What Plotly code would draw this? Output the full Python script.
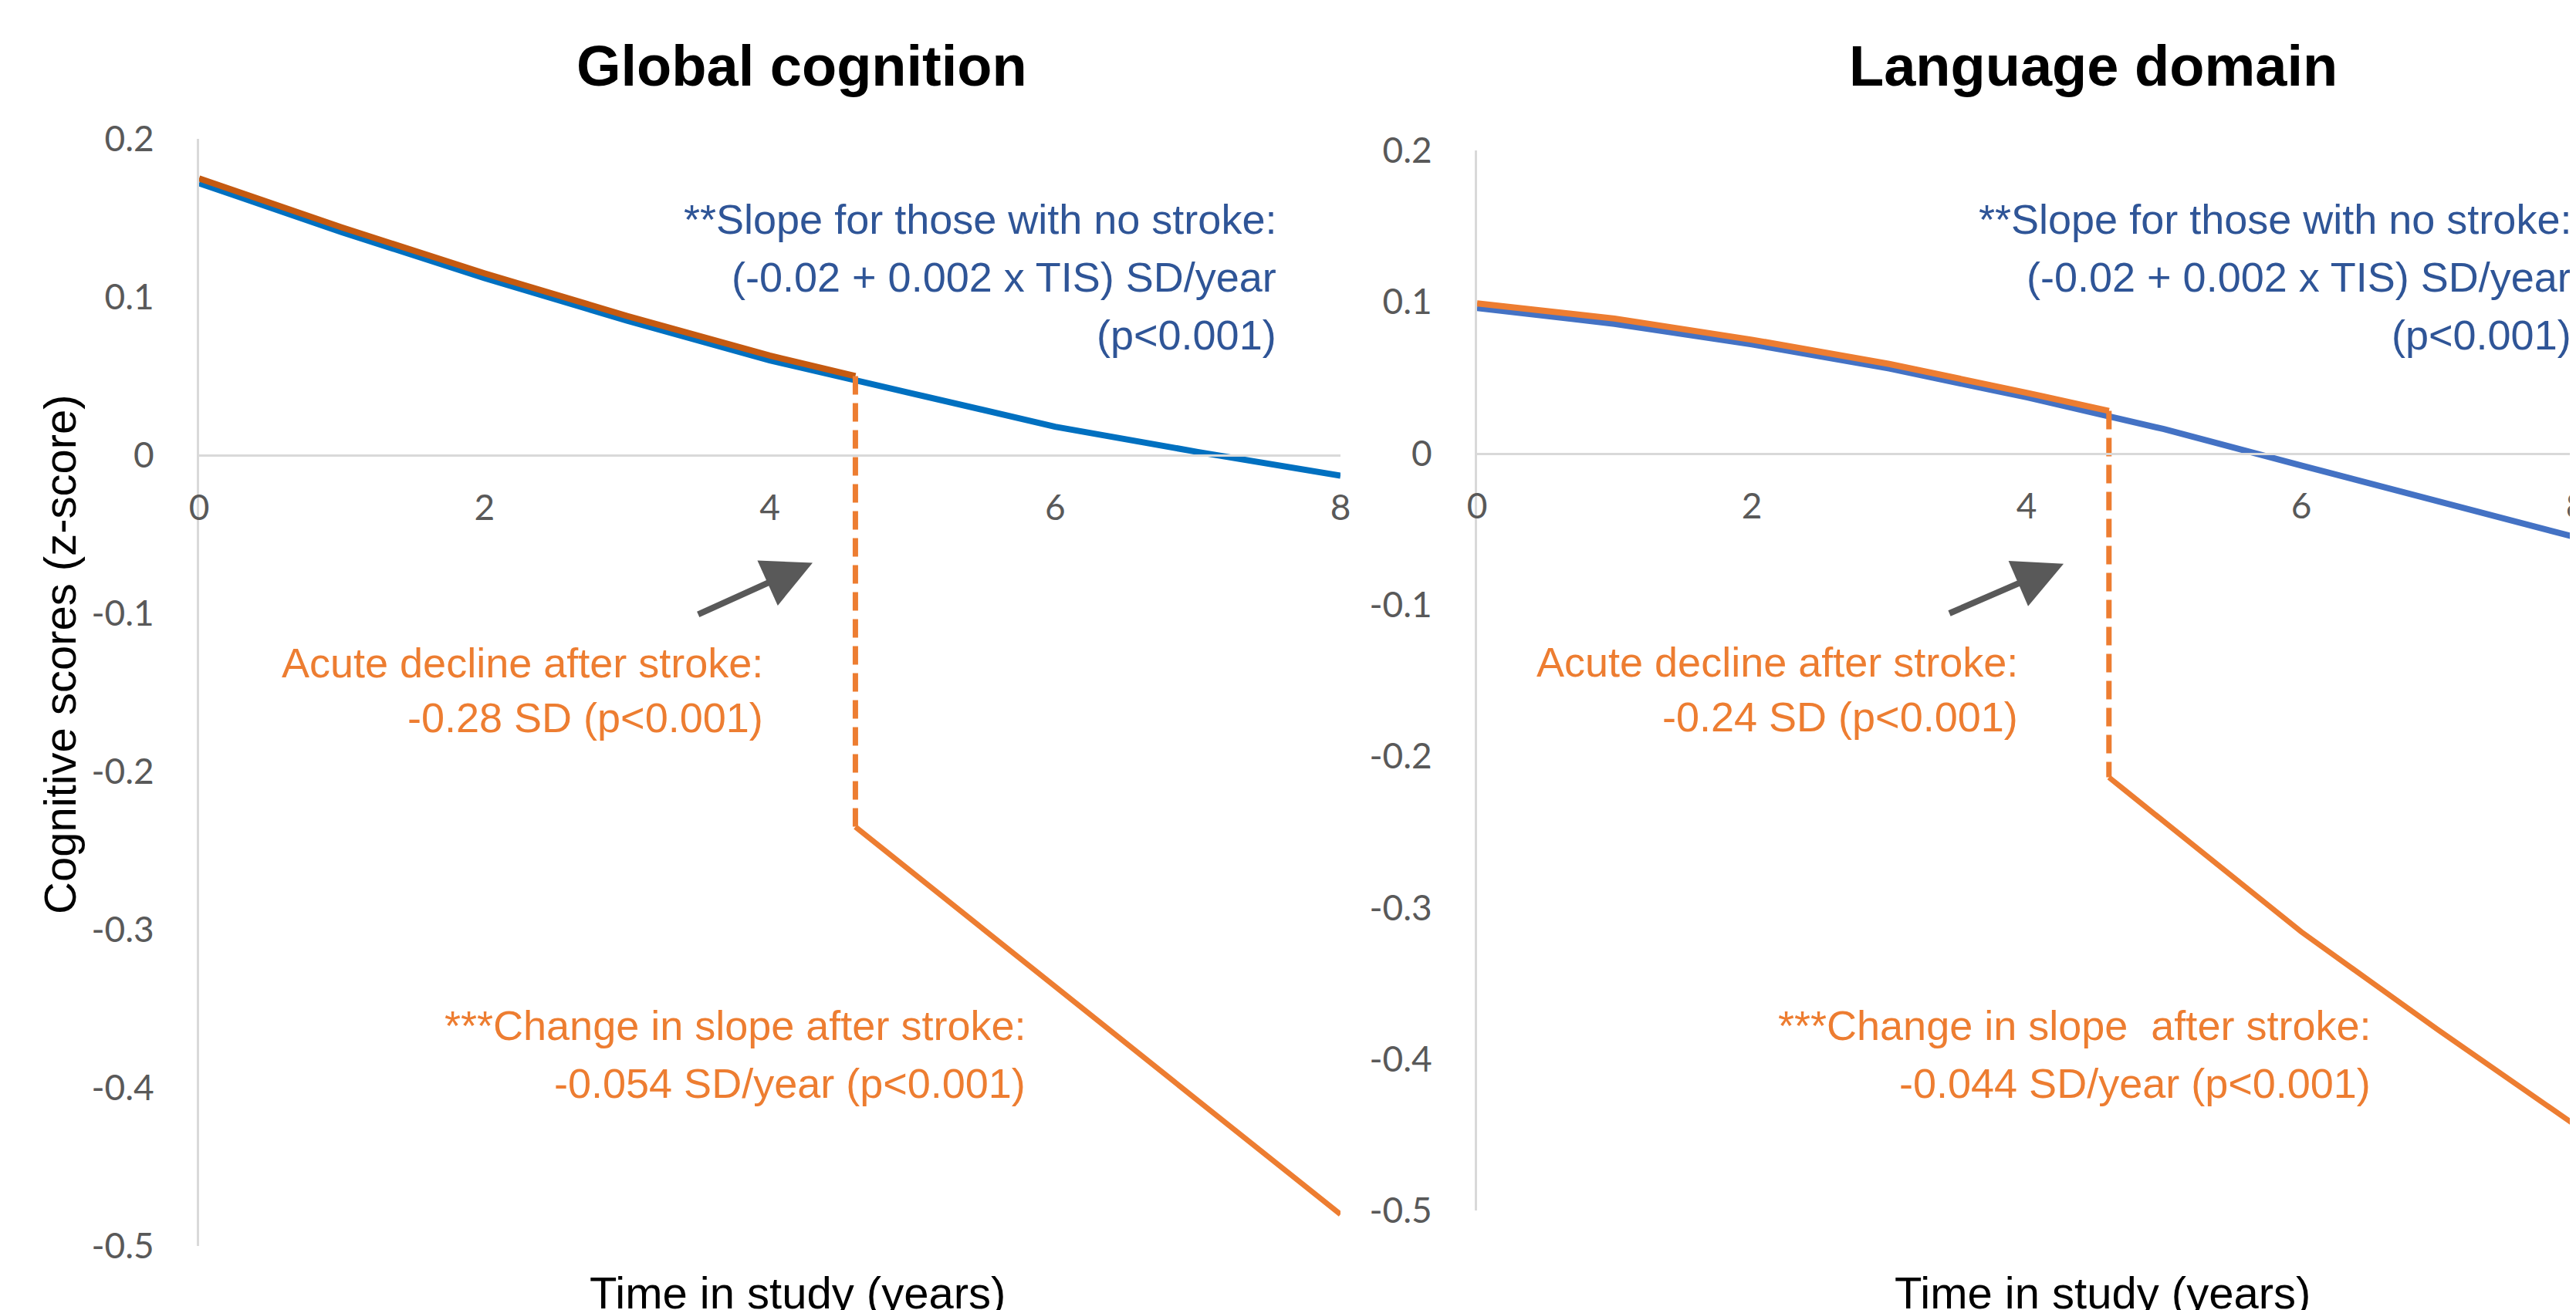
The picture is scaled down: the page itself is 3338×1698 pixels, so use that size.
import plotly.graph_objects as go

# ---------------- data ----------------
stroke_time = 4.6
years = [0, 1, 2, 3, 4, 4.6, 5, 6, 7, 8]
years_pre = [0, 1, 2, 3, 4, 4.6]
years_post = [4.6, 5, 6, 7, 8]

global_no_stroke = [0.172, 0.141, 0.112, 0.085, 0.060, 0.047, 0.039, 0.018, 0.002, -0.013]
global_stroke_pre = [0.175, 0.144, 0.115, 0.088, 0.063, 0.050]
global_stroke_post = [-0.235, -0.264, -0.336, -0.408, -0.480]

language_no_stroke = [0.096, 0.0855, 0.072, 0.056, 0.037, 0.025, 0.016, -0.008, -0.032, -0.0555]
language_stroke_pre = [0.099, 0.089, 0.075, 0.059, 0.040, 0.028]
language_stroke_post = [-0.214, -0.243, -0.316, -0.381, -0.444]

x_tick_vals = [0, 2, 4, 6, 8]
x_tick_text = ["0", "2", "4", "6", "8"]
y_tick_vals = [0.2, 0.1, 0, -0.1, -0.2, -0.3, -0.4, -0.5]
y_tick_text = ["0.2", "0.1", "0", "-0.1", "-0.2", "-0.3", "-0.4", "-0.5"]

panel_titles = ["Global cognition", "Language domain"]
x_title = "Time in study (years)"
y_title = "Cognitive scores (z-score)"

slope_lines = ["**Slope for those with no stroke:", "(-0.02 + 0.002 x TIS) SD/year", "(p&lt;0.001)"]
acute_lines = [["Acute decline after stroke:", "-0.28 SD (p&lt;0.001)"],
               ["Acute decline after stroke:", "-0.24 SD (p&lt;0.001)"]]
change_lines = [["***Change in slope after stroke:", "-0.054 SD/year (p&lt;0.001)"],
                ["***Change in slope&nbsp; after stroke:", "-0.044 SD/year (p&lt;0.001)"]]

# ---------------- style ----------------
W, H = 3338, 1698
AXIS_GREY = "#D9D9D9"
TICK_GREY = "#595959"
TEXT_BLUE = "#2F5597"
ORANGE = "#ED7D31"
ARIAL = "Liberation Sans, Arial, sans-serif"
TICKFONT = dict(family="Lato, Carlito, sans-serif", size=46, color=TICK_GREY)
NOTE_SIZE = 54

Y_RANGE = [-0.5, 0.2]
panels = [
    dict(xdom=[250 / W, 1729 / W], ydom=[1 - 1607 / H, 1 - 172 / H], xrange=[0, 8],
         no_stroke=global_no_stroke, pre=global_stroke_pre, post=global_stroke_post,
         blue="#0070C0", pre_color="#C55A11"),
    dict(xdom=[1906 / W, 1.0], ydom=[1 - 1561 / H, 1 - 187 / H], xrange=[0, 8.045],
         no_stroke=language_no_stroke, pre=language_stroke_pre, post=language_stroke_post,
         blue="#4472C4", pre_color=ORANGE),
]

fig = go.Figure()
for i, p in enumerate(panels):
    xa = "x" if i == 0 else "x2"
    ya = "y" if i == 0 else "y2"
    fig.add_trace(go.Scatter(x=years, y=p["no_stroke"], mode="lines", xaxis=xa, yaxis=ya,
                             line=dict(color=p["blue"], width=8), showlegend=False,
                             hoverinfo="skip"))
    fig.add_trace(go.Scatter(x=years_pre, y=p["pre"], mode="lines", xaxis=xa, yaxis=ya,
                             line=dict(color=p["pre_color"], width=8), showlegend=False,
                             hoverinfo="skip"))
    fig.add_trace(go.Scatter(x=[stroke_time, stroke_time], y=[p["pre"][-1], p["post"][0]],
                             mode="lines", xaxis=xa, yaxis=ya,
                             line=dict(color=ORANGE, width=7, dash="24px,11px"),
                             showlegend=False, hoverinfo="skip"))
    fig.add_trace(go.Scatter(x=years_post, y=p["post"], mode="lines", xaxis=xa, yaxis=ya,
                             line=dict(color=ORANGE, width=7), showlegend=False,
                             hoverinfo="skip"))

    zero_pos = p["ydom"][0] + (0 - Y_RANGE[0]) / (Y_RANGE[1] - Y_RANGE[0]) * (p["ydom"][1] - p["ydom"][0])
    xkey = "xaxis" if i == 0 else "xaxis2"
    ykey = "yaxis" if i == 0 else "yaxis2"
    fig.update_layout(**{
        xkey: dict(domain=p["xdom"], range=p["xrange"], anchor="free", position=zero_pos,
                   showline=True, linecolor=AXIS_GREY, linewidth=3, showgrid=False,
                   zeroline=False, ticks="", tickvals=x_tick_vals, ticktext=x_tick_text,
                   tickfont=TICKFONT, ticklabelstandoff=27, automargin=False,
                   ticklabeloverflow="allow", fixedrange=True),
        ykey: dict(domain=p["ydom"], range=Y_RANGE, anchor=xa, showline=True,
                   linecolor=AXIS_GREY, linewidth=3, showgrid=False, zeroline=False,
                   ticks="", tickvals=y_tick_vals, ticktext=y_tick_text,
                   tickfont=TICKFONT, ticklabelstandoff=46, automargin=False,
                   ticklabeloverflow="allow", fixedrange=True),
    })

annotations = []


def text_line(text, x_px, baseline_px, size, color, xanchor="right", bold=False):
    # middle of the SVG text box sits ~0.35 em above the baseline
    mid = baseline_px - 0.3465 * size
    return dict(text=("<b>" + text + "</b>") if bold else text, x=x_px / W, y=1 - mid / H,
                xref="paper", yref="paper", xanchor=xanchor, yanchor="middle",
                showarrow=False, font=dict(family=ARIAL, size=size, color=color))


# panel titles
for cx, t in zip([1031, 2704], panel_titles):
    annotations.append(text_line(t, cx, 103, 74, "black", xanchor="center", bold=True))
# x titles
for cx in [1025, 2716]:
    annotations.append(text_line(x_title, cx, 1688, 58, "black", xanchor="center"))
# y title
annotations.append(dict(text=y_title, x=70 / W, y=1 - 840 / H, xref="paper", yref="paper",
                        xanchor="center", yanchor="middle", textangle=-90, showarrow=False,
                        font=dict(family=ARIAL, size=58, color="black")))

# text notes: (lines, right edge px, first baseline px, line step px, colour)
notes = [
    (slope_lines, 1648, 295, 75, TEXT_BLUE),
    (slope_lines, 3326, 295, 75, TEXT_BLUE),
    (acute_lines[0], 983, 870, 71, ORANGE),
    (acute_lines[1], 2609, 869, 71, ORANGE),
    (change_lines[0], 1323, 1340, 75, ORANGE),
    (change_lines[1], 3066, 1340, 75, ORANGE),
]
for lines, right_px, base0, step, color in notes:
    for k, line in enumerate(lines):
        annotations.append(text_line(line, right_px, base0 + k * step, NOTE_SIZE, color))

# arrows (data coordinates)
arrows = [("x", "y", 4.30, -0.068, 3.49, -0.101), ("x2", "y2", 4.27, -0.073, 3.43, -0.106)]
for xr, yr, x, y, ax, ay in arrows:
    annotations.append(dict(text="", x=x, y=y, ax=ax, ay=ay, xref=xr, yref=yr, axref=xr,
                            ayref=yr, showarrow=True, arrowhead=2, arrowsize=1.6,
                            arrowwidth=8, arrowcolor="#595959", standoff=0))

fig.update_layout(template="none", width=W, height=H, autosize=False,
                  margin=dict(l=0, r=0, t=0, b=0, pad=0),
                  paper_bgcolor="white", plot_bgcolor="white", annotations=annotations,
                  showlegend=False)

fig.write_html("out.html", config={"displayModeBar": False})
